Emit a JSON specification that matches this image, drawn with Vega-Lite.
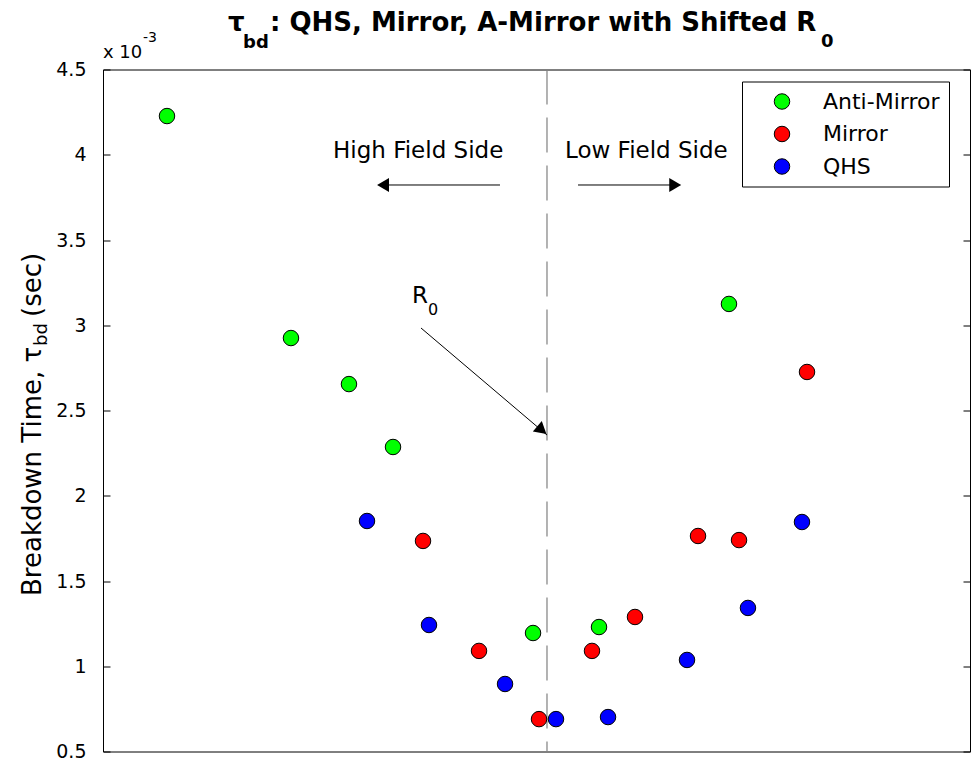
{
  "$schema": "https://vega.github.io/schema/vega-lite/v6.json",
  "width": 867,
  "height": 682,
  "autosize": "none",
  "padding": {"left": 103, "top": 69.5, "right": 4, "bottom": 15.5},
  "background": "#ffffff",
  "config": {
    "font": "DejaVu Sans",
    "view": {"stroke": "#000000", "strokeWidth": 1},
    "axis": {"grid": false, "domain": false, "tickColor": "#000000", "tickWidth": 1, "labelColor": "#000000", "labelFont": "DejaVu Sans"},
    "legend": {
      "orient": "none", "legendX": 639, "legendY": 12,
      "strokeColor": "#000000", "fillColor": "#ffffff", "padding": 9,
      "symbolType": "circle", "symbolSize": 240, "symbolStrokeColor": "#000000", "symbolStrokeWidth": 1,
      "labelFontSize": 22, "labelFont": "DejaVu Sans", "labelColor": "#000000",
      "symbolOffset": 20, "labelOffset": 30, "rowPadding": 10.5
    }
  },
  "datasets": {
    "points": [
      {"series": "Anti-Mirror", "x": 7.38, "tau": 0.004227},
      {"series": "Anti-Mirror", "x": 21.68, "tau": 0.002925},
      {"series": "Anti-Mirror", "x": 28.37, "tau": 0.002655},
      {"series": "Anti-Mirror", "x": 33.45, "tau": 0.002286},
      {"series": "Anti-Mirror", "x": 49.60, "tau": 0.001195},
      {"series": "Anti-Mirror", "x": 57.21, "tau": 0.00123},
      {"series": "Anti-Mirror", "x": 72.20, "tau": 0.003125},
      {"series": "Mirror", "x": 36.91, "tau": 0.001735},
      {"series": "Mirror", "x": 43.37, "tau": 0.00109},
      {"series": "Mirror", "x": 50.29, "tau": 0.00069},
      {"series": "Mirror", "x": 56.40, "tau": 0.00109},
      {"series": "Mirror", "x": 61.36, "tau": 0.001289},
      {"series": "Mirror", "x": 68.63, "tau": 0.001764},
      {"series": "Mirror", "x": 73.36, "tau": 0.00174},
      {"series": "Mirror", "x": 81.20, "tau": 0.002726},
      {"series": "QHS", "x": 30.45, "tau": 0.001852},
      {"series": "QHS", "x": 37.60, "tau": 0.001242},
      {"series": "QHS", "x": 46.37, "tau": 0.000896},
      {"series": "QHS", "x": 52.25, "tau": 0.00069},
      {"series": "QHS", "x": 58.25, "tau": 0.000702},
      {"series": "QHS", "x": 67.36, "tau": 0.001037},
      {"series": "QHS", "x": 74.39, "tau": 0.001342},
      {"series": "QHS", "x": 80.62, "tau": 0.001846}
    ],
    "marker": [{"x": 51.21}],
    "arrows": [
      {"arrow": "hfs", "x": 45.79, "y": 0.0038226},
      {"arrow": "hfs", "x": 32.06, "y": 0.0038226},
      {"arrow": "lfs", "x": 54.79, "y": 0.0038226},
      {"arrow": "lfs", "x": 66.2, "y": 0.0038226},
      {"arrow": "r0", "x": 36.678, "y": 0.0029839},
      {"arrow": "r0", "x": 51.211, "y": 0.0023563}
    ],
    "heads": [
      {"arrow": "hfs", "x": 32.3, "y": 0.0038226, "heading": 180},
      {"arrow": "lfs", "x": 66.0, "y": 0.0038226, "heading": 0},
      {"arrow": "r0", "x": 50.62, "y": 0.002385, "heading": 40.3}
    ],
    "notes": [
      {"kind": "title", "x": 14.418, "y": 0.0047229, "text": "τ"},
      {"kind": "titlesub", "x": 16.148, "y": 0.004626, "text": "bd"},
      {"kind": "title", "x": 19.262, "y": 0.0047229, "text": ": QHS, Mirror, A-Mirror with Shifted R"},
      {"kind": "titlesub", "x": 82.814, "y": 0.004632, "text": "0"},
      {"kind": "ylab", "x": -7.151, "y": 0.001412, "text": "Breakdown Time, τ"},
      {"kind": "ylabsub", "x": -6.459, "y": 0.0028783, "text": "bd"},
      {"kind": "ylab", "x": -7.151, "y": 0.0030484, "text": "(sec)"},
      {"kind": "note", "x": 26.528, "y": 0.003981, "text": "High Field Side"},
      {"kind": "note", "x": 53.287, "y": 0.003981, "text": "Low Field Side"},
      {"kind": "note", "x": 35.64, "y": 0.0031305, "text": "R"},
      {"kind": "notesub", "x": 37.486, "y": 0.0030601, "text": "0"},
      {"kind": "mult", "x": 0.0, "y": 0.0045674, "text": "x 10"},
      {"kind": "multsup", "x": 4.614, "y": 0.0046613, "text": "-3"}
    ]
  },
  "layer": [
    {
      "data": {"name": "marker"},
      "mark": {"type": "rule", "color": "#808080", "strokeWidth": 1.2, "strokeDash": [35, 13]},
      "encoding": {
        "x": {"field": "x", "type": "quantitative", "scale": {"domain": [0, 100], "nice": false, "zero": false}, "axis": null}
      }
    },
    {
      "data": {"name": "points"},
      "mark": {"type": "point", "filled": true, "size": 240, "stroke": "#000000", "strokeWidth": 1, "opacity": 1},
      "encoding": {
        "x": {"field": "x", "type": "quantitative", "scale": {"domain": [0, 100], "nice": false, "zero": false}, "axis": null},
        "y": {"field": "tau", "type": "quantitative", "scale": {"domain": [0.0005, 0.0045], "nice": false, "zero": false},
          "axis": {"orient": "left", "title": null, "values": [0.0005, 0.001, 0.0015, 0.002, 0.0025, 0.003, 0.0035, 0.004, 0.0045],
            "labelExpr": "format(datum.value*1000, '~g')", "tickSize": -7, "labelPadding": 24, "labelFontSize": 19}},
        "color": {"field": "series", "type": "nominal",
          "scale": {"domain": ["Anti-Mirror", "Mirror", "QHS"], "range": ["#00ff00", "#ff0000", "#0000ff"]},
          "legend": {"title": null}}
      }
    },
    {
      "data": {"name": "arrows"},
      "mark": {"type": "line", "color": "#000000", "strokeWidth": 1},
      "encoding": {
        "x": {"field": "x", "type": "quantitative", "scale": {"domain": [0, 100], "nice": false, "zero": false}, "axis": null},
        "y": {"field": "y", "type": "quantitative", "scale": {"domain": [0.0005, 0.0045], "nice": false, "zero": false},
          "axis": {"orient": "right", "title": null, "labels": false, "values": [0.0005, 0.001, 0.0015, 0.002, 0.0025, 0.003, 0.0035, 0.004, 0.0045], "tickSize": -7}},
        "detail": {"field": "arrow", "type": "nominal"}
      }
    },
    {
      "data": {"name": "heads"},
      "mark": {"type": "point", "shape": "triangle-right", "filled": true, "size": 190, "color": "#000000", "opacity": 1},
      "encoding": {
        "x": {"field": "x", "type": "quantitative", "scale": {"domain": [0, 100], "nice": false, "zero": false}, "axis": null},
        "y": {"field": "y", "type": "quantitative", "scale": {"domain": [0.0005, 0.0045], "nice": false, "zero": false}, "axis": null},
        "angle": {"field": "heading", "type": "quantitative", "scale": null}
      }
    },
    {
      "data": {"name": "notes"},
      "transform": [{"filter": "datum.kind === 'title'"}],
      "mark": {"type": "text", "align": "left", "baseline": "alphabetic", "fontSize": 26, "fontWeight": "bold", "color": "#000000"},
      "encoding": {
        "x": {"field": "x", "type": "quantitative", "scale": {"domain": [0, 100], "nice": false, "zero": false}, "axis": null},
        "y": {"field": "y", "type": "quantitative", "scale": {"domain": [0.0005, 0.0045], "nice": false, "zero": false}, "axis": null},
        "text": {"field": "text"}
      }
    },
    {
      "data": {"name": "notes"},
      "transform": [{"filter": "datum.kind === 'titlesub'"}],
      "mark": {"type": "text", "align": "left", "baseline": "alphabetic", "fontSize": 18, "fontWeight": "bold", "color": "#000000"},
      "encoding": {
        "x": {"field": "x", "type": "quantitative", "scale": {"domain": [0, 100], "nice": false, "zero": false}, "axis": null},
        "y": {"field": "y", "type": "quantitative", "scale": {"domain": [0.0005, 0.0045], "nice": false, "zero": false}, "axis": null},
        "text": {"field": "text"}
      }
    },
    {
      "data": {"name": "notes"},
      "transform": [{"filter": "datum.kind === 'ylab'"}],
      "mark": {"type": "text", "align": "left", "baseline": "alphabetic", "fontSize": 26, "angle": 270, "color": "#000000"},
      "encoding": {
        "x": {"field": "x", "type": "quantitative", "scale": {"domain": [0, 100], "nice": false, "zero": false}, "axis": null},
        "y": {"field": "y", "type": "quantitative", "scale": {"domain": [0.0005, 0.0045], "nice": false, "zero": false}, "axis": null},
        "text": {"field": "text"}
      }
    },
    {
      "data": {"name": "notes"},
      "transform": [{"filter": "datum.kind === 'ylabsub'"}],
      "mark": {"type": "text", "align": "left", "baseline": "alphabetic", "fontSize": 18, "angle": 270, "color": "#000000"},
      "encoding": {
        "x": {"field": "x", "type": "quantitative", "scale": {"domain": [0, 100], "nice": false, "zero": false}, "axis": null},
        "y": {"field": "y", "type": "quantitative", "scale": {"domain": [0.0005, 0.0045], "nice": false, "zero": false}, "axis": null},
        "text": {"field": "text"}
      }
    },
    {
      "data": {"name": "notes"},
      "transform": [{"filter": "datum.kind === 'note'"}],
      "mark": {"type": "text", "align": "left", "baseline": "alphabetic", "fontSize": 23, "color": "#000000"},
      "encoding": {
        "x": {"field": "x", "type": "quantitative", "scale": {"domain": [0, 100], "nice": false, "zero": false}, "axis": null},
        "y": {"field": "y", "type": "quantitative", "scale": {"domain": [0.0005, 0.0045], "nice": false, "zero": false}, "axis": null},
        "text": {"field": "text"}
      }
    },
    {
      "data": {"name": "notes"},
      "transform": [{"filter": "datum.kind === 'notesub'"}],
      "mark": {"type": "text", "align": "left", "baseline": "alphabetic", "fontSize": 16, "color": "#000000"},
      "encoding": {
        "x": {"field": "x", "type": "quantitative", "scale": {"domain": [0, 100], "nice": false, "zero": false}, "axis": null},
        "y": {"field": "y", "type": "quantitative", "scale": {"domain": [0.0005, 0.0045], "nice": false, "zero": false}, "axis": null},
        "text": {"field": "text"}
      }
    },
    {
      "data": {"name": "notes"},
      "transform": [{"filter": "datum.kind === 'mult'"}],
      "mark": {"type": "text", "align": "left", "baseline": "alphabetic", "fontSize": 18, "color": "#000000"},
      "encoding": {
        "x": {"field": "x", "type": "quantitative", "scale": {"domain": [0, 100], "nice": false, "zero": false}, "axis": null},
        "y": {"field": "y", "type": "quantitative", "scale": {"domain": [0.0005, 0.0045], "nice": false, "zero": false}, "axis": null},
        "text": {"field": "text"}
      }
    },
    {
      "data": {"name": "notes"},
      "transform": [{"filter": "datum.kind === 'multsup'"}],
      "mark": {"type": "text", "align": "left", "baseline": "alphabetic", "fontSize": 14, "color": "#000000"},
      "encoding": {
        "x": {"field": "x", "type": "quantitative", "scale": {"domain": [0, 100], "nice": false, "zero": false}, "axis": null},
        "y": {"field": "y", "type": "quantitative", "scale": {"domain": [0.0005, 0.0045], "nice": false, "zero": false}, "axis": null},
        "text": {"field": "text"}
      }
    }
  ],
  "resolve": {"axis": {"y": "independent"}}
}
